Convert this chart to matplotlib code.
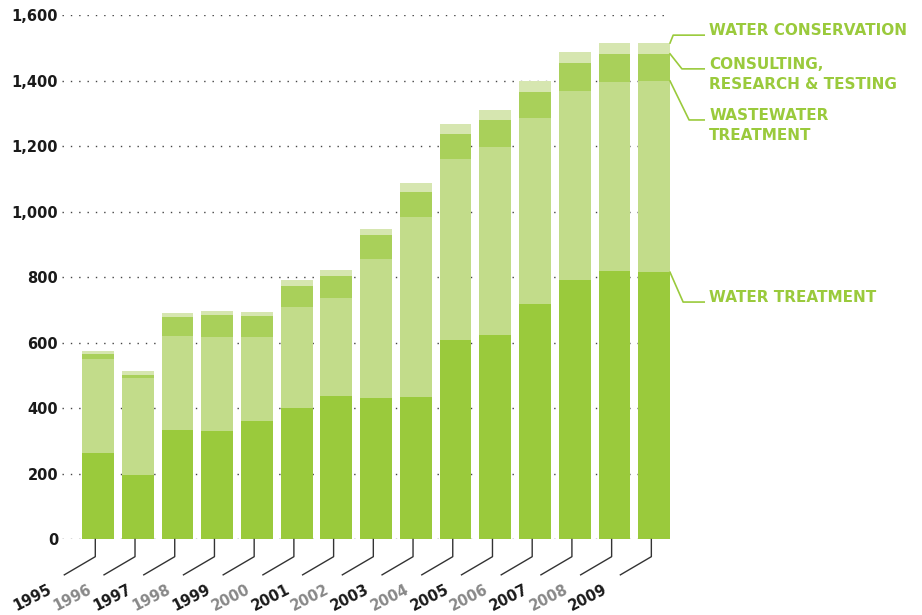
import numpy as np
import matplotlib
matplotlib.use("Agg")
import matplotlib.pyplot as plt

years = ['1995', '1996', '1997', '1998', '1999', '2000', '2001', '2002',
         '2003', '2004', '2005', '2006', '2007', '2008', '2009']
water_treatment = [264, 197, 334, 331, 362, 401, 438, 432, 435, 609, 624, 719, 792, 820, 816]
wastewater = [287, 296, 287, 287, 256, 309, 299, 424, 550, 553, 575, 568, 577, 577, 584]
consulting = [15, 9, 58, 67, 64, 64, 68, 74, 76, 76, 82, 79, 86, 86, 83]
conservation = [10, 12, 13, 13, 13, 18, 18, 18, 27, 31, 30, 34, 33, 33, 33]

series = [water_treatment, wastewater, consulting, conservation]
labels = ['WATER TREATMENT', 'WASTEWATER\nTREATMENT',
          'CONSULTING,\nRESEARCH & TESTING', 'WATER CONSERVATION']
colors = ['#9aca3c', '#c2dc8a', '#a9d05a', '#d6e6b0']
yticks = [0, 200, 400, 600, 800, 1000, 1200, 1400, 1600]

green_text = '#9aca3c'
x = np.arange(len(years))

fig = plt.figure(figsize=(9.22, 6.15), dpi=100)
ax = fig.add_axes([0.0676, 0.1228, 0.6591, 0.852])

bottom = np.zeros(len(years))
tops = []
for vals, col in zip(series, colors):
    vals = np.array(vals, dtype=float)
    ax.bar(x, vals, bottom=bottom, width=0.8, color=col, zorder=2)
    bottom = bottom + vals
    tops.append(bottom.copy())

ax.set_xlim(-0.9, 14.4)
ax.set_ylim(0, 1600)
ax.set_yticks(yticks)
ax.set_yticklabels([f'{v:,}' for v in yticks], fontsize=10.5, fontweight='bold',
                   color='#1a1a1a')
ax.set_xticks([])
ax.tick_params(axis='y', length=0, pad=3)
for s in ax.spines.values():
    s.set_visible(False)
ax.yaxis.grid(True, color='#444444', linewidth=1, linestyle=(0, (1, 5)), zorder=0)
ax.set_axisbelow(True)

# year leaders and rotated labels under each bar
for i, yr in enumerate(years):
    xs = [i - 0.07, i - 0.07, i - 0.85]
    ys = [0, -52.5, -108]
    ax.plot(xs, ys, color='#333333', linewidth=1, clip_on=False)
    col = '#1a1a1a' if i % 2 == 0 else '#888888'
    ax.text(i - 1.11, -128, yr, rotation=27, ha='right', va='top',
            fontsize=10.5, fontweight='bold', color=col, clip_on=False)

# series labels with leader lines from the last bar
last = len(years) - 1
edge = last + 0.4
label_y = [725, 1281, 1437, 1540]
elbow_x = [14.73, 14.88, 14.70, 14.48]
line_step = 61  # one text line, in data units
for top, lab, ly, ex in zip(tops, labels, label_y, elbow_x):
    ax.plot([edge, ex, 15.26], [top[last], ly, ly], color=green_text,
            linewidth=1.2, clip_on=False)
    for k, part in enumerate(lab.split('\n')):
        ax.text(15.39, ly - k * line_step, part, ha='left', va='baseline',
                fontsize=11, fontweight='bold', color=green_text, clip_on=False)

fig.savefig('out.png', dpi=100)
